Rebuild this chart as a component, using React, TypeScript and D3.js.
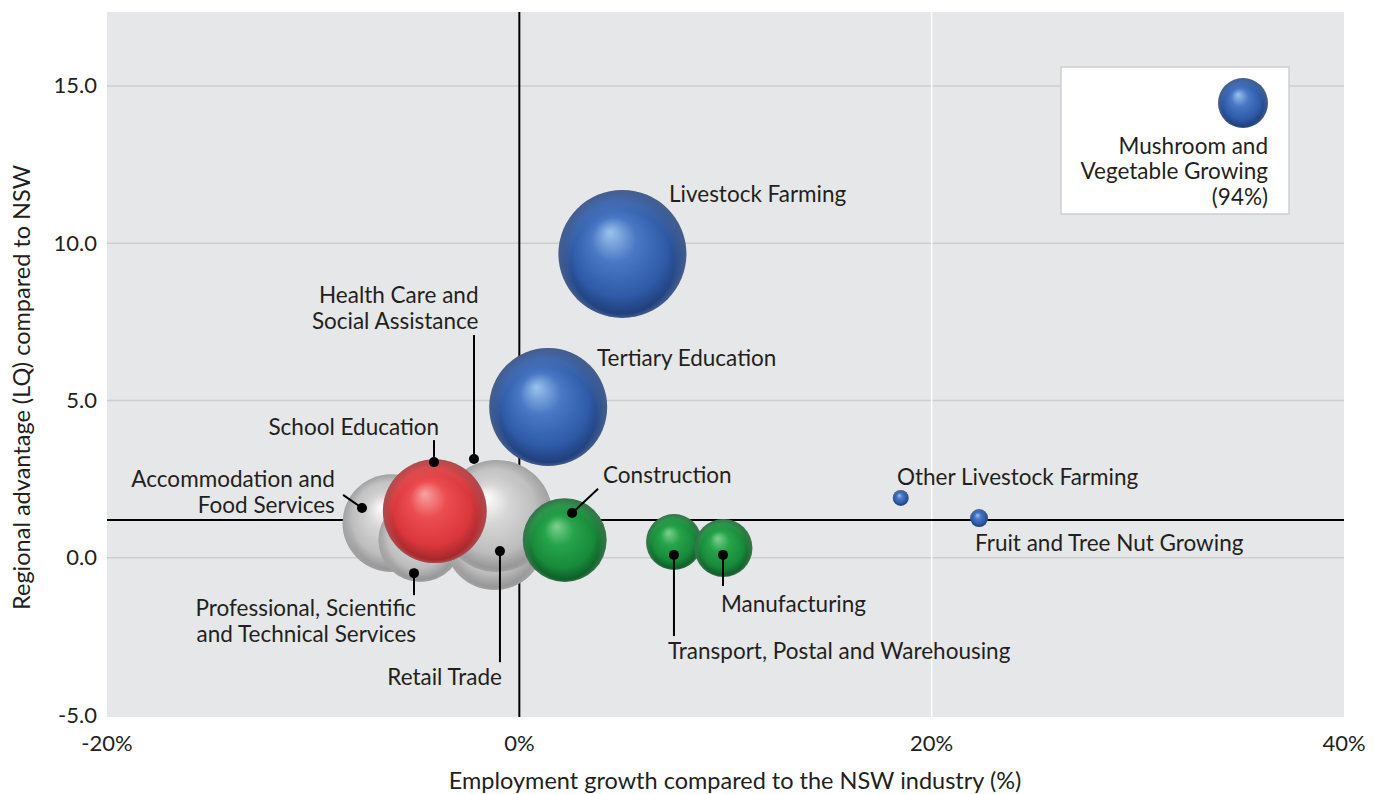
import { useEffect } from "react";
import * as d3 from "d3";

// industries plotted as bubbles
const industries = [
  "Accommodation and Food Services",
  "Professional, Scientific and Technical Services",
  "Retail Trade",
  "Health Care and Social Assistance",
  "School Education",
  "Tertiary Education",
  "Livestock Farming",
  "Construction",
  "Transport, Postal and Warehousing",
  "Manufacturing",
  "Other Livestock Farming",
  "Fruit and Tree Nut Growing",
];
// employment growth vs NSW industry (%)
const growth = [-6.2, -4.8, -1.2, -1.1, -4.1, 1.4, 5.0, 2.2, 7.5, 9.9, 18.5, 22.3];
// location quotient vs NSW
const lq = [1.1, 0.56, 0.56, 1.33, 1.48, 4.79, 9.66, 0.56, 0.5, 0.31, 1.9, 1.26];
// relative employment (bubble area)
const employment = [2400, 1760, 2500, 3140, 2700, 3480, 4100, 1760, 780, 840, 64, 81];
const group = ["grey", "grey", "grey", "grey", "red", "blue", "blue", "green", "green", "green", "blue", "blue"];

const outlier = { name: ["Mushroom and", "Vegetable Growing", "(94%)"], employment: 625 };

const xTicks = [-20, 0, 20, 40];
const yTicks = [-5, 0, 5, 10, 15];
const nswLQ = 1.2;

const W = 1375;
const H = 794;
const font = "Lato, 'Open Sans', sans-serif";
const ink = "#231f20";
const labelSize = 22.5;
const dy = 2; // nudge text down a touch, middle baseline sits high in Lato

const x = d3.scaleLinear().domain([-20, 40]).range([107, 1344]);
const y = d3.scaleLinear().domain([-5, 17.35]).range([715, 12]);
const r = d3.scaleSqrt().domain([0, 4100]).range([0, 64]);

const palettes: Record<string, string[]> = {
  blue: ["#9cc3ee", "#4a78c4", "#2e5aa6", "#1d3a72"],
  red: ["#f7a3a3", "#ec4d50", "#d9373b", "#9a2428"],
  green: ["#7fcf90", "#25a44a", "#188a3a", "#0d5524"],
  grey: ["#ffffff", "#d6d6d6", "#bdbdbd", "#8e8e8e"],
};

// label layout, in data units: text anchor point + optional leader (dot first)
type Lab = { lines: string[]; tx: number; ty: number; anchor: string; leader?: number[][] };
const labels: Lab[] = [
  { lines: ["Livestock Farming"], tx: 7.26, ty: 11.56, anchor: "start" },
  { lines: ["Tertiary Education"], tx: 3.77, ty: 6.35, anchor: "start" },
  { lines: ["Health Care and", "Social Assistance"], tx: -1.98, ty: 8.35, anchor: "end", leader: [[-2.2, 3.14], [-2.2, 7.08]] },
  { lines: ["School Education"], tx: -3.89, ty: 4.16, anchor: "end", leader: [[-4.14, 3.04], [-4.14, 3.74]] },
  { lines: ["Accommodation and", "Food Services"], tx: -8.95, ty: 2.5, anchor: "end", leader: [[-7.63, 1.58], [-8.55, 2.0]] },
  { lines: ["Construction"], tx: 4.06, ty: 2.63, anchor: "start", leader: [[2.56, 1.42], [3.82, 2.19]] },
  { lines: ["Professional, Scientific", "and Technical Services"], tx: -5.01, ty: -1.6, anchor: "end", leader: [[-5.11, -0.49], [-5.11, -1.19]] },
  { lines: ["Retail Trade"], tx: -0.84, ty: -3.79, anchor: "end", leader: [[-0.94, 0.21], [-0.94, -3.32]] },
  { lines: ["Transport, Postal and Warehousing"], tx: 7.21, ty: -2.97, anchor: "start", leader: [[7.5, 0.09], [7.5, -2.49]] },
  { lines: ["Manufacturing"], tx: 9.78, ty: -1.47, anchor: "start", leader: [[9.88, 0.09], [9.88, -0.9]] },
  { lines: ["Other Livestock Farming"], tx: 18.32, ty: 2.57, anchor: "start" },
  { lines: ["Fruit and Tree Nut Growing"], tx: 22.1, ty: 0.47, anchor: "start" },
];

export default function App() {
  useEffect(() => {
    document.body.style.margin = "0";
  }, []);

  const [x0, x1] = x.range();
  const [yb, yt] = y.range();

  return (
    <svg width={W} height={H} style={{ display: "block", fontFamily: font }}>
      <defs>
        {Object.entries(palettes).map(([k, c]) => (
          <radialGradient key={k} id={`g-${k}`} cx="50%" cy="50%" r="50%" fx="40%" fy="33%">
            <stop offset="0%" stopColor={c[0]} />
            <stop offset="35%" stopColor={c[1]} />
            <stop offset="75%" stopColor={c[2]} />
            <stop offset="100%" stopColor={c[3]} />
          </radialGradient>
        ))}
        <radialGradient id="rim" cx="50%" cy="50%" r="50%" fx="50%" fy="85%">
          <stop offset="0%" stopColor="#fff" stopOpacity={0} />
          <stop offset="80%" stopColor="#fff" stopOpacity={0} />
          <stop offset="100%" stopColor="#fff" stopOpacity={0.18} />
        </radialGradient>
      </defs>

      <rect x={x0} y={yt} width={x1 - x0} height={yb - yt + 2} fill="#e6e7e8" />

      {yTicks.filter((t) => t > -5).map((t) => (
        <line key={t} x1={x0} x2={x1} y1={y(t)} y2={y(t)} stroke="#cdced0" strokeWidth={1.5} />
      ))}
      <line x1={x(20)} x2={x(20)} y1={yt} y2={yb + 2} stroke="#ffffff" strokeWidth={1.5} />

      <line x1={x0} x2={x1} y1={y(nswLQ)} y2={y(nswLQ)} stroke="#000" strokeWidth={2} />
      <line x1={x(0)} x2={x(0)} y1={yt} y2={yb + 2} stroke="#000" strokeWidth={2} />

      {yTicks.map((t) => (
        <text key={t} x={97} y={y(t) + dy} textAnchor="end" dominantBaseline="middle" fontSize={22} fill={ink}>
          {d3.format(".1f")(t).replace("−", "-")}
        </text>
      ))}
      {xTicks.map((t) => (
        <text key={t} x={x(t)} y={743 + dy} textAnchor="middle" dominantBaseline="middle" fontSize={22} fill={ink}>
          {`${t}%`}
        </text>
      ))}
      <text x={735} y={781 + dy} textAnchor="middle" dominantBaseline="middle" fontSize={23.5} fill={ink}>
        Employment growth compared to the NSW industry (%)
      </text>
      <text
        transform={`translate(${22 + dy},${(yt + yb) / 2 + 24}) rotate(-90)`}
        textAnchor="middle"
        dominantBaseline="middle"
        fontSize={23.5}
        fill={ink}
      >
        Regional advantage (LQ) compared to NSW
      </text>

      {industries.map((name, i) => (
        <g key={name}>
          <circle cx={x(growth[i])} cy={y(lq[i])} r={r(employment[i])} fill={`url(#g-${group[i]})`} />
          <circle cx={x(growth[i])} cy={y(lq[i])} r={r(employment[i])} fill="url(#rim)" />
        </g>
      ))}

      {labels.map((l, i) => (
        <g key={i}>
          {l.leader && (
            <>
              <line
                x1={x(l.leader[0][0])}
                y1={y(l.leader[0][1])}
                x2={x(l.leader[1][0])}
                y2={y(l.leader[1][1])}
                stroke="#000"
                strokeWidth={2}
              />
              <circle cx={x(l.leader[0][0])} cy={y(l.leader[0][1])} r={5} fill="#000" />
            </>
          )}
          {l.lines.map((s, j) => (
            <text
              key={j}
              x={x(l.tx)}
              y={y(l.ty) + j * 26 + dy}
              textAnchor={l.anchor}
              dominantBaseline="middle"
              fontSize={labelSize}
              fill={ink}
            >
              {s}
            </text>
          ))}
        </g>
      ))}

      <g>
        <rect x={1061} y={67} width={228} height={147} fill="#fff" stroke="#cfcfcf" strokeWidth={1.5} />
        <circle cx={1243} cy={103} r={r(outlier.employment)} fill="url(#g-blue)" />
        <circle cx={1243} cy={103} r={r(outlier.employment)} fill="url(#rim)" />
        {outlier.name.map((s, j) => (
          <text key={j} x={1268} y={146 + j * 25.5 + dy} textAnchor="end" dominantBaseline="middle" fontSize={labelSize} fill={ink}>
            {s}
          </text>
        ))}
      </g>
    </svg>
  );
}
